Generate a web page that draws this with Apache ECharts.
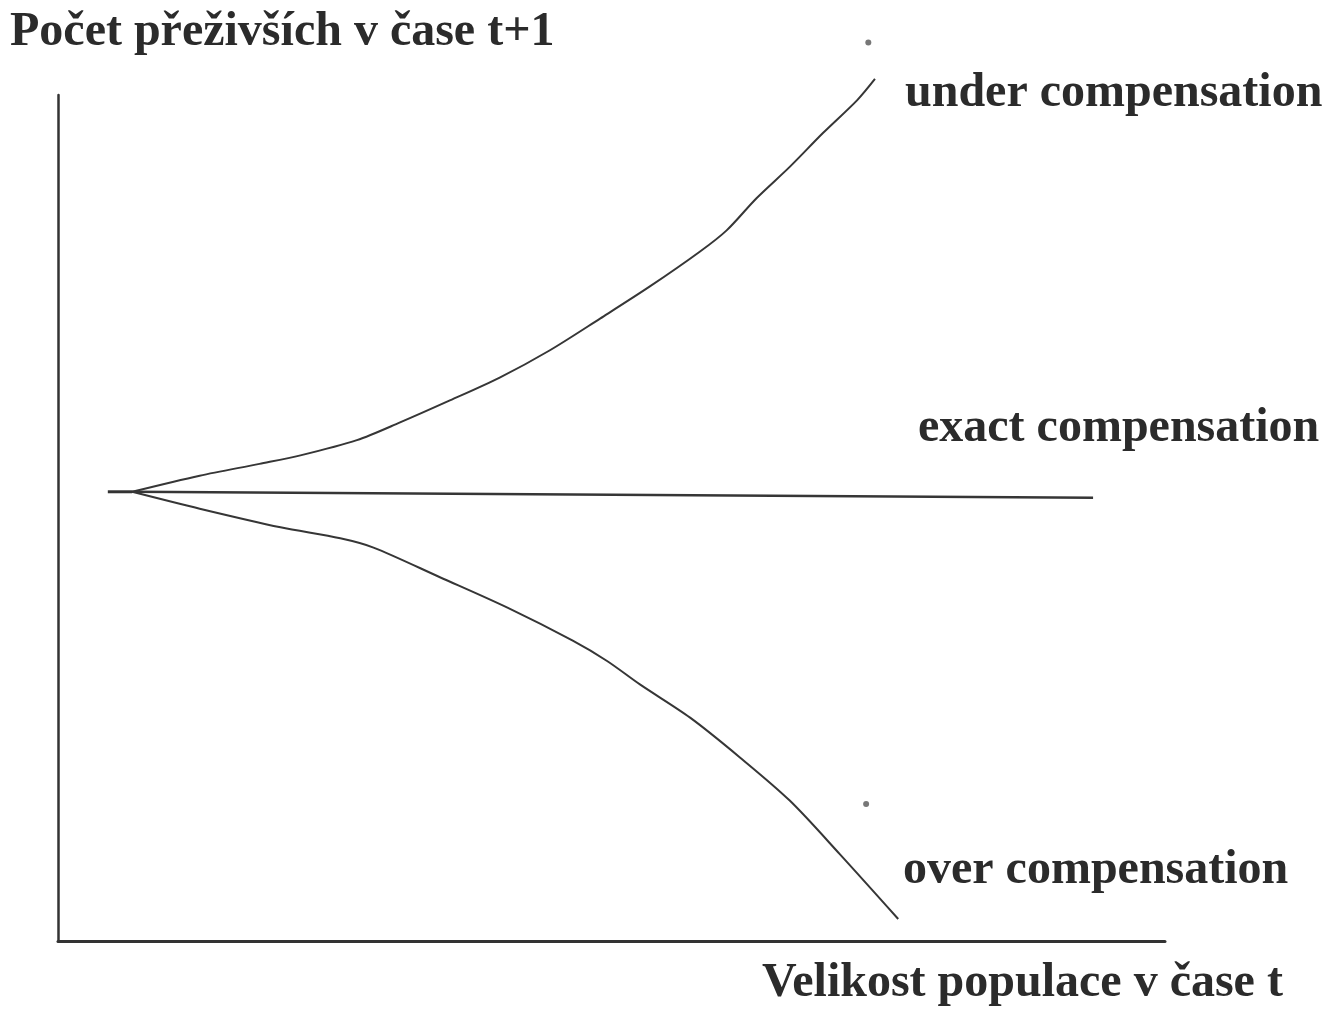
<!DOCTYPE html>
<html>
<head>
<meta charset="utf-8">
<script src="https://cdn.jsdelivr.net/npm/echarts@6/dist/echarts.min.js"></script>
<style>
  html, body { margin: 0; padding: 0; background: #fff; }
  #chart { width: 1330px; height: 1009px; }
</style>
</head>
<body>
<div id="chart"></div>
<script>
// Population size at time t (x) vs. survivors at time t+1 (y), arbitrary units 0..100
const xTitle = 'Velikost populace v čase t';
const yTitle = 'Počet přeživších v čase t+1';
const curveNames = ['under compensation', 'exact compensation', 'over compensation'];

// shared starting stub before the three responses branch
const stub = [[4.5, 53.1], [6.7, 53.1]];

const underComp = [
  [6.7, 53.1], [12.8, 55.0], [18.2, 56.4], [21.9, 57.4], [27.0, 59.2],
  [30.9, 61.3], [35.4, 63.9], [39.9, 66.6], [44.4, 69.8], [49.0, 73.6],
  [53.5, 77.4], [58.0, 81.5], [60.4, 84.0], [63.1, 87.8], [66.1, 91.5],
  [69.1, 95.5], [72.2, 99.4], [73.8, 101.9]
];

const exactComp = [[6.7, 53.1], [93.5, 52.4]];

const overComp = [
  [6.7, 53.1], [12.8, 51.1], [20.1, 48.9], [25.5, 47.6], [28.5, 46.5],
  [34.5, 43.0], [40.6, 39.4], [46.5, 35.5], [49.6, 33.1], [52.6, 30.3],
  [57.1, 26.4], [61.6, 21.7], [66.1, 16.6], [70.6, 10.3], [75.9, 2.6]
];

// two small marker dots
const dots = [[73.2, 106.2], [73.0, 16.2]];

const ink = '#2b2b2b';
const serif = '"Liberation Serif", "DejaVu Serif", serif';
const labelFont = 'bold 48px ' + serif;

const lineStyle = { color: '#363636', width: 2 };

const chart = echarts.init(document.getElementById('chart'));
chart.setOption({
  backgroundColor: '#ffffff',
  animation: false,
  grid: { left: 58, right: 165, top: 95, bottom: 68 },
  xAxis: {
    type: 'value', min: 0, max: 100,
    axisLine: { show: true, onZero: false, lineStyle: { color: '#333', width: 3 } },
    axisTick: { show: false }, axisLabel: { show: false }, splitLine: { show: false }
  },
  yAxis: {
    type: 'value', min: 0, max: 100,
    axisLine: { show: true, onZero: false, lineStyle: { color: '#333', width: 2.5 } },
    axisTick: { show: false }, axisLabel: { show: false }, splitLine: { show: false }
  },
  graphic: [
    { type: 'text', left: 10, top: 9, style: { text: yTitle, font: labelFont, fill: ink } },
    { type: 'text', left: 762, top: 960, style: { text: xTitle, font: labelFont, fill: ink } },
    { type: 'text', left: 905, top: 70, style: { text: curveNames[0], font: labelFont, fill: ink } },
    { type: 'text', left: 918, top: 405, style: { text: curveNames[1], font: labelFont, fill: ink } },
    { type: 'text', left: 903, top: 847, style: { text: curveNames[2], font: labelFont, fill: ink } }
  ],
  series: [
    { type: 'line', data: stub, symbol: 'none', clip: false,
      lineStyle: { color: '#333', width: 3 } },
    { name: curveNames[0], type: 'line', data: underComp, smooth: 0.3,
      symbol: 'none', clip: false, lineStyle },
    { name: curveNames[1], type: 'line', data: exactComp,
      symbol: 'none', clip: false, lineStyle: { color: '#363636', width: 2.5 } },
    { name: curveNames[2], type: 'line', data: overComp, smooth: 0.3,
      symbol: 'none', clip: false, lineStyle },
    { type: 'scatter', data: dots, symbolSize: 6, clip: false,
      itemStyle: { color: '#555' } }
  ]
});
</script>
</body>
</html>
